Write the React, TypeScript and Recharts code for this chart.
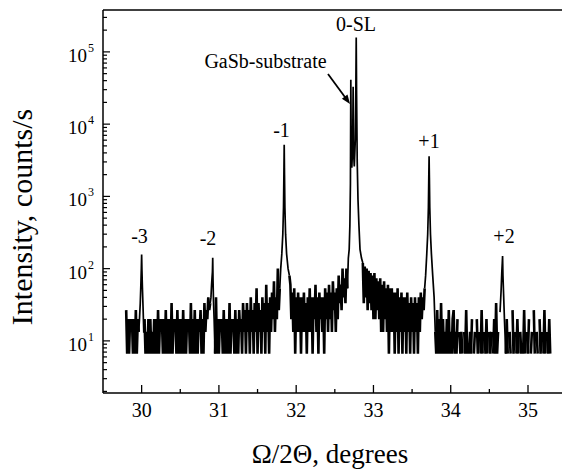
/**
 * HRXRD Ω/2Θ-Scan eines Übergitters auf GaSb – logarithmische Intensitätsachse
 */

import { LineChart, Line, XAxis, YAxis, ReferenceLine } from 'recharts'

// Rauschen in Zählimpulsen pro Messschritt, 1 Impuls = 1/0.15 s ≈ 6.67 counts/s
const countTime = 0.15
const scanStep = 0.0125
const _ = null // 0 Impulse: auf log-Skala nicht darstellbar

const noise1Start = 29.8
const noise1 = [4, 1, 3, 1, 3, 2, 3, 1, 3, 1, 4, 1, 3, 2]

const noise2Start = 30.0375
const noise2 = [
  3, 1, 2, 1, 3, 1, 3, 1, 2, 1,
  3, 1, 3, 1, 4, 1, 3, 2, 3, 1,
  3, 1, 4, 1, 3, 1, 3, 1, 5, 1,
  3, 2, 3, 1, 4, 1, 3, 1, 3, 1,
  4, 1, 3, 1, 3, 2, 3, 1, 5, 1,
  3, 1, 4, 1, 3, 1, 3, 2, 4, 1,
  3, 1, 5, 2, 4, 3, 6, 4, 5,
]

const noise3Start = 30.95
const noise3 = [
  1, 6, 1, 3, 1, 3, 2, 3, 1, 4,
  1, 3, 1, 3, 1, 5, 1, 3, 2, 3,
  1, 4, 1, 3, 1, 4, 2, 3,
  1, 5, 2, 4, 1, 5, 2, 4, 1, 6,
  2, 4, 1, 5, 2, 8, 1, 5, 2, 4,
  1, 6, 2, 5, 1, 9, 2, 5, 1, 6,
  2, 7, 3, 10, 2, 6, 3, 15, 4, 8,
]

const noise4Start = 31.9125
const noise4 = [
  12, 9, 3, 7, 2, 8, 1, 6, 2, 7, 2,
  6, 1, 6, 2, 7, 2, 5, 1, 6, 2,
  8, 2, 6, 1, 6, 3, 9, 2, 6, 1,
  7, 3, 6, 2, 6, 1, 8, 3, 7, 2,
  9, 3, 7, 2, 10, 4, 7, 2, 8, 3,
  12, 5, 9, 4, 15, 6, 11, 5, 15, 8,
]

const noise5Start = 32.8625
const noise5 = [
  18, 5, 16, 6, 15, 4, 14, 5, 13, 4,
  12, 3, 13, 3, 11, 4, 10, 3, 11, 2,
  9, 2, 10, 3, 8, 2, 9, 1, 8, 2,
  8, 2, 7, 1, 7, 2, 8, 1, 6, 2,
  7, 1, 6, 2, 6, 1, 7, 2, 5, 1,
  6, 2, 5, 1, 6, 2, 5, 1, 6, 2,
  7, 3, 6, 4, 8,
]

const noise6Start = 33.8
const noise6 = [
  2, 1, 4, 1, 3, 1, 5, 1, 3, 1,
  2, 1, 3, 1, 4, 1, 2, 1, 3, 4,
  1, 2, 1, 3, _, 2, 1, 2, 1, _,
  2, 1, 4, 1, _, 1, 2, 1, 3, _,
  1, 2, _, 3, 1, 2, _, 1, 4, 1,
  _, 2, 1, 3, 1, _, 2, 1, 2, _,
  1, 3, 1, 5, 1, 2, _,
]

const noise7Start = 34.7125
const noise7 = [
  1, 3, 1, _, 2, 1, _, 4, 1, 2,
  _, 1, 3, 1, _, 2, 1, _, 1, 4,
  1, _, 2, 1, 3, _, 1, 2, _, 4,
  1, _, 2, 1, _, 3, 1, 2, _, 1,
  4, 1, _, 2, 1, 3, 1,
]

// Reflexe in counts/s
const peakM3Angle = [29.972, 29.982, 29.99, 29.996, 30.0, 30.004, 30.01, 30.018, 30.028]
const peakM3Int = [20, 33, 60, 100, 157, 95, 55, 30, 13]

const peakM2Angle = [30.897, 30.905, 30.911, 30.916, 30.92, 30.924, 30.93, 30.938]
const peakM2Int = [40, 60, 75, 90, 141, 70, 35, 20]

const peakM1Angle = [31.8, 31.814, 31.827, 31.836, 31.841, 31.845, 31.849, 31.854, 31.863, 31.876, 31.895]
const peakM1Int = [100, 160, 300, 700, 2000, 5200, 2000, 700, 300, 160, 100]

const peakMainAngle = [
  32.675, 32.686, 32.695, 32.702, 32.707, 32.712, 32.72, 32.731, 32.737, 32.743,
  32.752, 32.765, 32.772, 32.777, 32.782, 32.79, 32.8, 32.812, 32.826, 32.845,
]
const peakMainInt = [
  140, 185, 400, 1500, 41000, 6000, 2500, 5000, 33000, 4000,
  2600, 6000, 30000, 158000, 25000, 3000, 900, 400, 185, 140,
]

const peakP1Angle = [33.675, 33.69, 33.702, 33.711, 33.716, 33.72, 33.724, 33.729, 33.738, 33.75, 33.767, 33.785]
const peakP1Int = [80, 160, 300, 700, 1800, 3600, 1800, 700, 300, 160, 80, 40]

const peakP2Angle = [34.638, 34.652, 34.661, 34.667, 34.671, 34.676, 34.684, 34.695]
const peakP2Int = [25, 50, 90, 120, 149, 80, 45, 20]

const xTicks = [30, 30.5, 31, 31.5, 32, 32.5, 33, 33.5, 34, 34.5, 35]
const yExponents = [1, 2, 3, 4, 5]
const yMinorFactors = [2, 3, 4, 5, 6, 7, 8, 9]
const yDomain: [number, number] = [1.9, 3.8e5]

// noise: Untergrund-Abschnitte, peak: Reflexe (inkl. Nachbarpunkte, damit die Kurve durchgeht)
type Row = { angle: number; noise: number | null; peak: number | null }

function noiseRows(start: number, counts: (number | null)[]): Row[] {
  return counts.map((c, i) => ({
    angle: +(start + i * scanStep).toFixed(4),
    noise: c == null ? null : c / countTime,
    peak: null,
  }))
}

function peakRows(angles: number[], ints: number[]): Row[] {
  return angles.map((a, i) => ({ angle: a, noise: null, peak: ints[i] }))
}

const segments: Row[][] = [
  noiseRows(noise1Start, noise1),
  peakRows(peakM3Angle, peakM3Int),
  noiseRows(noise2Start, noise2),
  peakRows(peakM2Angle, peakM2Int),
  noiseRows(noise3Start, noise3),
  peakRows(peakM1Angle, peakM1Int),
  noiseRows(noise4Start, noise4),
  peakRows(peakMainAngle, peakMainInt),
  noiseRows(noise5Start, noise5),
  peakRows(peakP1Angle, peakP1Int),
  noiseRows(noise6Start, noise6),
  peakRows(peakP2Angle, peakP2Int),
  noiseRows(noise7Start, noise7),
]

// Randpunkte der Untergrundabschnitte auch in die Reflex-Serie übernehmen
segments.forEach((seg, k) => {
  if (k % 2 === 0) {
    const first = seg[0]
    const last = seg[seg.length - 1]
    if (k > 0) first.peak = first.noise
    if (k < segments.length - 1) last.peak = last.noise
  }
})

const data: Row[] = segments.flat()

const yTicks: number[] = []
for (let e = 0; e <= 5; e++) {
  const d = Math.pow(10, e)
  if (e > 0) yTicks.push(d)
  for (const f of yMinorFactors) {
    const v = f * d
    if (v >= yDomain[0] && v <= yDomain[1]) yTicks.push(v)
  }
}

const serif = '"Liberation Serif", "Times New Roman", Times, serif'

function XTick(props: any) {
  const { x, y, payload } = props
  const v = payload.value as number
  const major = Number.isInteger(v)
  return (
    <g>
      <line x1={x} x2={x} y1={y} y2={y - (major ? 8 : 4)} stroke="#000" strokeWidth={1.3} />
      {major && (
        <text x={x} y={y + 24} textAnchor="middle" fontSize={20} style={{ fontFamily: serif }} fill="#000">
          {v}
        </text>
      )}
    </g>
  )
}

function YTick(props: any) {
  const { x, y, payload } = props
  const v = payload.value as number
  const exp = Math.round(Math.log10(v))
  const major = yExponents.includes(exp) && Math.abs(v - Math.pow(10, exp)) < 1e-6 * v
  return (
    <g>
      <line x1={x} x2={x + (major ? 7 : 4)} y1={y} y2={y} stroke="#000" strokeWidth={1.2} />
      {major && (
        <g style={{ fontFamily: serif }} fill="#000">
          <text x={x - 16} y={y + 10} textAnchor="end" fontSize={19}>10</text>
          <text x={x - 15} y={y} fontSize={12}>{exp}</text>
        </g>
      )}
    </g>
  )
}

export default function App() {
  return (
    <div
      style={{
        position: 'absolute',
        left: 0,
        top: 0,
        width: 562,
        height: 470,
        background: '#fff',
        fontFamily: serif,
      }}
    >
      <LineChart width={562} height={470} data={data} margin={{ top: 10, right: 0, bottom: 0, left: 0 }}>
        <XAxis
          dataKey="angle"
          type="number"
          domain={[29.5, 35.44]}
          ticks={xTicks}
          interval={0}
          height={77}
          tickSize={0}
          tickMargin={0}
          tickLine={false}
          tick={<XTick />}
          axisLine={{ stroke: '#000', strokeWidth: 1.5 }}
          allowDataOverflow
        />
        <YAxis
          type="number"
          scale="log"
          domain={yDomain}
          ticks={yTicks}
          interval={0}
          width={103}
          tickSize={0}
          tickMargin={0}
          tickLine={false}
          tick={<YTick />}
          axisLine={{ stroke: '#000', strokeWidth: 1.5 }}
          allowDataOverflow
        />
        <ReferenceLine y={yDomain[1]} stroke="#000" strokeWidth={1.5} />
        <Line
          dataKey="noise"
          type="linear"
          stroke="#000"
          strokeWidth={2.6}
          dot={false}
          activeDot={false}
          connectNulls={false}
          isAnimationActive={false}
        />
        <Line
          dataKey="peak"
          type="linear"
          stroke="#000"
          strokeWidth={1.7}
          dot={false}
          activeDot={false}
          connectNulls={false}
          isAnimationActive={false}
        />
      </LineChart>
      <svg
        width={562}
        height={470}
        style={{ position: 'absolute', left: 0, top: 0, pointerEvents: 'none', fontFamily: serif }}
        fill="#000"
      >
        <text transform="translate(32,217) rotate(-90)" textAnchor="middle" fontSize={30}>
          Intensity, counts/s
        </text>
        <text x={330} y={463} textAnchor="middle" fontSize={27}>
          Ω/2Θ, degrees
        </text>
        <g fontSize={20} textAnchor="middle">
          <text x={139.5} y={243}>-3</text>
          <text x={208} y={245}>-2</text>
          <text x={281.5} y={137}>-1</text>
          <text x={356} y={31}>0-SL</text>
          <text x={265.5} y={68}>GaSb-substrate</text>
          <text x={429} y={148}>+1</text>
          <text x={504} y={243}>+2</text>
        </g>
        <line x1={328} y1={74} x2={346} y2={98.5} stroke="#000" strokeWidth={1.8} />
        <polygon points="350,104 341.9,98.8 347.5,94.6" fill="#000" />
      </svg>
    </div>
  )
}
